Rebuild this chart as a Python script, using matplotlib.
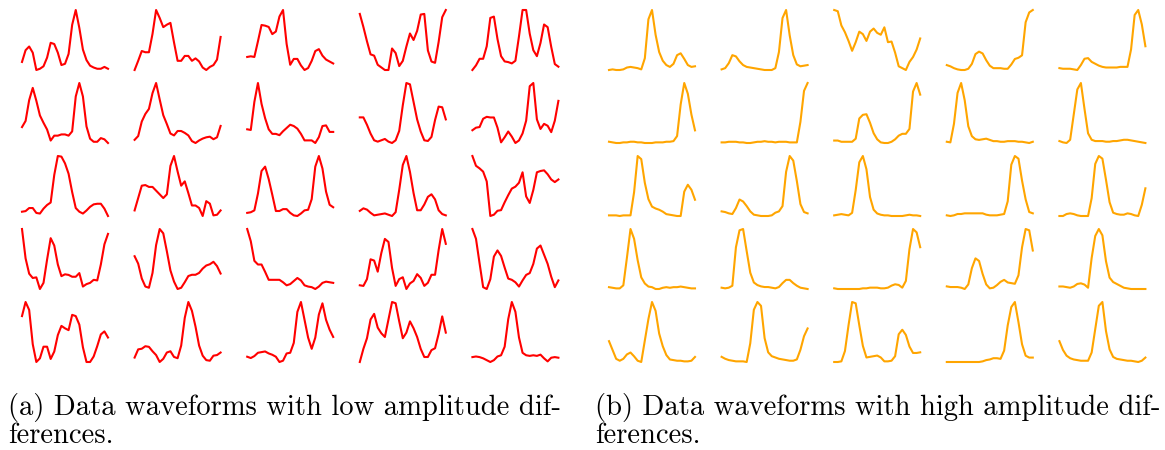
import numpy as np
import matplotlib
matplotlib.use("Agg")
import matplotlib.pyplot as plt

# Data entry: each waveform is 25 samples (arbitrary units)
# (a) low amplitude differences, row by row
low_r1 = [
    [1.5, 3.4, 4.0, 3.0, 0.2, 0.4, 0.8, 2.2, 4.6, 4.4, 3.0, 1.0, 1.2, 2.8, 7.5, 9.9, 7.0, 3.5, 1.8, 0.9, 0.6, 0.4, 0.4, 0.7, 0.4],
    [0.1, 1.6, 3.2, 3.0, 3.0, 6.0, 9.9, 8.6, 7.1, 7.5, 7.8, 4.6, 1.6, 1.6, 2.4, 2.4, 1.6, 2.0, 1.5, 0.5, 0.1, 0.6, 0.9, 1.8, 5.5],
    [2.1, 2.2, 2.1, 4.5, 7.0, 6.9, 6.7, 5.6, 6.0, 8.3, 9.3, 4.1, 0.9, 1.8, 1.8, 0.8, 0.1, 0.4, 1.5, 3.0, 3.3, 2.3, 1.7, 1.4, 1.1],
    [9.0, 7.0, 4.8, 2.8, 2.6, 1.2, 0.8, 0.4, 0.4, 3.7, 3.0, 1.0, 1.8, 4.0, 6.0, 5.0, 6.4, 8.9, 9.0, 3.4, 1.7, 1.5, 4.7, 8.5, 9.6],
    [0.1, 0.8, 1.8, 1.8, 3.7, 8.0, 8.2, 4.8, 2.2, 1.4, 1.3, 1.1, 1.5, 5.2, 9.2, 9.2, 5.6, 3.1, 2.2, 4.2, 7.0, 6.6, 3.6, 1.0, 0.6],
]
low_r2 = [
    [2.6, 3.6, 7.0, 9.0, 6.9, 4.5, 3.3, 2.2, 0.4, 1.2, 1.2, 1.4, 1.4, 1.2, 1.9, 7.6, 9.8, 7.6, 2.7, 0.7, 0.2, 0.2, 0.8, 0.6, 0.0],
    [0.6, 1.2, 3.5, 4.7, 5.5, 8.0, 9.6, 7.0, 4.5, 3.1, 1.6, 1.3, 2.0, 2.0, 1.7, 1.3, 0.4, 0.1, 0.5, 0.8, 1.0, 1.1, 0.7, 1.0, 2.8],
    [2.5, 2.4, 6.7, 9.6, 6.4, 4.2, 2.5, 1.8, 1.8, 1.6, 2.2, 2.7, 3.2, 3.0, 2.6, 1.8, 0.8, 0.8, 0.8, 0.4, 1.3, 3.0, 3.1, 2.1, 2.1],
    [3.9, 3.9, 2.8, 1.5, 0.5, 0.3, 0.5, 0.7, 0.3, 0.1, 0.5, 1.9, 5.7, 9.0, 8.8, 6.2, 3.6, 1.8, 0.5, 0.4, 1.0, 3.5, 5.5, 5.4, 3.6],
    [2.1, 2.5, 2.6, 3.9, 4.2, 4.1, 4.1, 2.5, 0.2, 1.0, 1.9, 1.1, 0.1, 0.5, 1.6, 3.6, 9.0, 9.5, 3.8, 2.3, 3.1, 2.8, 1.8, 3.6, 6.7],
]
low_r3 = [
    [0.8, 0.9, 1.4, 1.4, 0.6, 0.5, 1.3, 1.9, 2.3, 6.8, 9.9, 9.8, 8.7, 7.0, 4.0, 1.4, 0.8, 0.5, 1.0, 1.6, 2.0, 2.1, 2.1, 1.3, 0.1],
    [1.0, 3.0, 5.0, 5.1, 4.8, 4.8, 4.2, 3.6, 3.0, 3.6, 8.2, 9.8, 7.3, 5.0, 5.7, 3.8, 1.8, 1.8, 1.4, 0.1, 2.5, 2.1, 0.2, 0.3, 1.0],
    [0.6, 0.7, 1.0, 3.7, 7.3, 8.0, 6.0, 3.5, 0.9, 0.9, 1.2, 1.2, 0.6, 0.2, 0.1, 0.5, 1.0, 1.1, 2.8, 8.0, 9.7, 7.7, 4.0, 1.9, 1.5],
    [1.2, 1.6, 1.4, 0.9, 0.5, 0.6, 0.7, 0.8, 0.6, 0.4, 1.0, 4.5, 8.4, 9.8, 7.3, 4.0, 1.3, 1.3, 2.2, 3.4, 3.8, 3.0, 1.3, 0.7, 0.5],
    [10.0, 8.5, 8.1, 7.6, 6.1, 0.8, 1.0, 1.6, 1.7, 2.9, 4.0, 5.0, 5.3, 5.9, 7.5, 3.8, 2.8, 4.8, 7.5, 7.7, 7.8, 7.2, 6.4, 6.0, 6.4],
]
low_r4 = [
    [10.0, 5.2, 2.7, 2.0, 2.1, 0.2, 1.2, 5.0, 8.5, 7.3, 4.2, 2.3, 2.6, 2.5, 2.2, 2.2, 2.8, 0.6, 1.0, 1.2, 1.7, 1.6, 4.2, 7.5, 9.2],
    [5.5, 4.3, 1.9, 0.6, 0.4, 2.8, 7.3, 9.9, 9.2, 6.3, 3.2, 1.4, 0.2, 0.4, 1.3, 2.3, 2.5, 2.5, 2.8, 3.5, 4.0, 4.2, 4.6, 3.9, 2.7],
    [10.0, 8.0, 4.8, 4.2, 4.2, 3.0, 1.7, 1.7, 1.7, 1.7, 1.3, 0.8, 1.0, 1.5, 2.0, 1.6, 0.8, 0.6, 0.5, 0.2, 0.6, 1.2, 1.4, 1.3, 1.2],
    [0.8, 0.7, 1.8, 5.0, 4.8, 3.0, 6.0, 8.3, 7.8, 3.6, 0.7, 1.8, 2.1, 0.2, 1.1, 1.5, 2.6, 2.0, 0.7, 1.2, 2.5, 2.5, 6.5, 9.9, 7.5],
    [10.0, 8.4, 4.4, 0.5, 0.2, 1.8, 5.5, 6.5, 5.6, 3.7, 1.9, 1.7, 1.3, 0.6, 1.6, 2.5, 2.8, 4.3, 6.8, 7.3, 5.8, 4.3, 2.2, 0.5, 1.6],
]
low_r5 = [
    [7.6, 9.9, 8.6, 3.0, 0.1, 0.7, 2.6, 2.6, 0.6, 1.8, 4.5, 6.0, 5.6, 5.3, 7.8, 7.6, 6.2, 2.5, 0.1, 0.1, 1.0, 2.7, 4.6, 5.1, 4.1],
    [1.1, 2.4, 2.5, 2.9, 2.8, 2.1, 1.5, 0.4, 0.9, 1.9, 2.1, 1.2, 1.0, 3.0, 7.4, 9.9, 8.5, 6.0, 3.0, 1.4, 0.7, 0.6, 1.4, 1.5, 1.9],
    [1.4, 1.2, 1.5, 2.0, 2.1, 2.2, 1.9, 1.7, 1.4, 0.6, 0.8, 1.9, 2.0, 3.5, 8.2, 9.7, 7.0, 4.3, 2.6, 4.3, 7.8, 9.5, 7.0, 5.5, 4.4],
    [0.0, 2.1, 3.8, 6.8, 7.7, 5.5, 4.6, 4.0, 6.8, 9.6, 9.4, 6.5, 3.8, 4.7, 6.5, 5.4, 4.0, 2.1, 0.8, 0.8, 1.9, 2.2, 4.5, 7.3, 4.7],
    [0.8, 0.9, 0.8, 0.6, 0.3, 0.0, 0.3, 0.9, 1.1, 2.5, 7.0, 9.8, 8.2, 4.0, 1.5, 1.1, 1.0, 1.1, 1.0, 1.2, 0.6, 0.1, 0.7, 0.8, 0.7],
]

# (b) high amplitude differences, row by row
high_r1 = [
    [0.1, 0.2, 0.1, 0.1, 0.2, 0.5, 0.6, 0.5, 0.4, 0.2, 2.0, 8.3, 9.8, 5.8, 3.0, 1.6, 0.9, 0.6, 1.1, 2.5, 2.8, 1.9, 0.9, 0.6, 0.7],
    [0.2, 0.4, 1.2, 2.5, 2.3, 1.5, 0.9, 0.6, 0.5, 0.4, 0.3, 0.2, 0.1, 0.1, 0.1, 0.4, 3.0, 8.5, 9.8, 5.7, 2.5, 1.0, 0.7, 0.8, 0.9],
    [10.0, 9.8, 7.5, 6.4, 5.0, 3.4, 4.8, 6.5, 6.1, 5.0, 6.5, 7.0, 6.3, 6.0, 7.2, 4.8, 4.9, 3.1, 0.9, 0.6, 0.3, 1.6, 2.4, 3.6, 5.4],
    [1.0, 0.8, 0.5, 0.3, 0.2, 0.2, 0.4, 1.2, 2.8, 3.2, 2.9, 1.8, 0.9, 0.5, 0.5, 0.5, 0.4, 0.4, 1.1, 2.0, 2.2, 2.6, 8.0, 9.6, 10.0],
    [0.5, 0.4, 0.4, 0.4, 0.3, 0.2, 1.0, 2.0, 2.1, 1.5, 1.2, 0.9, 0.7, 0.6, 0.6, 0.6, 0.6, 0.7, 0.7, 0.7, 3.5, 9.0, 9.8, 7.5, 4.0],
]
high_r2 = [
    [0.3, 0.2, 0.1, 0.1, 0.2, 0.2, 0.3, 0.3, 0.2, 0.2, 0.1, 0.1, 0.1, 0.2, 0.2, 0.2, 0.3, 0.3, 0.4, 1.2, 6.2, 9.6, 7.9, 4.6, 2.1],
    [0.2, 0.2, 0.3, 0.3, 0.3, 0.2, 0.2, 0.1, 0.1, 0.2, 0.3, 0.3, 0.4, 0.3, 0.3, 0.2, 0.3, 0.3, 0.3, 0.2, 0.2, 0.2, 3.6, 8.7, 10.0],
    [0.4, 0.4, 0.2, 0.2, 0.2, 0.2, 0.7, 4.0, 4.6, 4.7, 3.3, 1.6, 0.6, 0.1, 0.0, 0.0, 0.2, 0.6, 1.2, 1.5, 1.5, 2.3, 8.4, 9.8, 7.9],
    [0.3, 0.2, 3.2, 8.2, 9.8, 7.0, 2.8, 1.2, 0.7, 0.6, 0.7, 0.8, 0.6, 0.4, 0.4, 0.3, 0.3, 0.4, 0.4, 0.4, 0.3, 0.3, 0.2, 0.1, 0.3],
    [0.4, 0.2, 0.1, 0.6, 4.5, 8.4, 9.4, 5.4, 1.6, 0.6, 0.4, 0.4, 0.4, 0.3, 0.3, 0.4, 0.4, 0.5, 0.6, 0.6, 0.5, 0.4, 0.3, 0.2, 0.1],
]
high_r3 = [
    [0.3, 0.3, 0.3, 0.2, 0.3, 0.3, 0.3, 4.0, 9.8, 9.3, 5.5, 2.9, 1.7, 1.4, 1.2, 0.9, 0.5, 0.4, 0.3, 0.2, 0.2, 4.1, 5.2, 4.4, 2.8],
    [1.0, 0.9, 0.7, 0.6, 1.5, 2.8, 2.5, 1.8, 1.0, 0.5, 0.4, 0.3, 0.3, 0.3, 0.4, 0.8, 1.0, 1.8, 7.0, 9.4, 8.7, 5.6, 2.1, 0.9, 0.7],
    [0.3, 0.4, 0.5, 0.4, 0.3, 0.7, 4.3, 8.7, 9.7, 7.6, 3.2, 1.2, 0.6, 0.4, 0.3, 0.3, 0.2, 0.2, 0.2, 0.2, 0.3, 0.4, 0.3, 0.3, 0.2],
    [0.3, 0.2, 0.3, 0.5, 0.5, 0.6, 0.6, 0.6, 0.6, 0.6, 0.6, 0.4, 0.3, 0.3, 0.3, 0.4, 0.5, 2.4, 7.9, 9.2, 8.8, 5.5, 2.7, 0.8, 0.6],
    [0.3, 0.3, 0.6, 0.7, 0.6, 0.4, 0.3, 0.3, 0.3, 3.0, 8.2, 9.4, 9.0, 5.8, 2.4, 0.8, 0.6, 0.5, 0.5, 0.7, 0.6, 0.4, 0.3, 2.0, 4.5],
]
high_r4 = [
    [0.4, 0.3, 0.2, 0.2, 0.7, 5.2, 9.9, 8.3, 4.8, 2.0, 1.0, 0.5, 0.4, 0.1, 0.1, 0.3, 0.4, 0.3, 0.4, 0.4, 0.5, 0.4, 0.3, 0.2, 0.2],
    [0.3, 0.2, 0.3, 0.6, 6.5, 9.1, 9.3, 5.9, 2.6, 1.1, 0.7, 0.5, 0.4, 0.4, 0.3, 0.2, 0.4, 1.0, 1.5, 1.5, 1.0, 0.6, 0.3, 0.2, 0.1],
    [0.2, 0.1, 0.1, 0.1, 0.1, 0.1, 0.1, 0.1, 0.2, 0.2, 0.3, 0.3, 0.3, 0.2, 0.2, 0.3, 0.6, 0.8, 0.7, 0.3, 1.3, 6.0, 9.0, 8.5, 6.3],
    [0.5, 0.4, 0.4, 0.4, 0.3, 0.1, 0.8, 3.3, 4.8, 4.4, 2.4, 0.8, 0.2, 0.3, 0.7, 1.2, 1.5, 1.1, 1.0, 0.9, 2.2, 6.5, 9.3, 9.1, 6.0],
    [0.5, 0.5, 0.4, 0.3, 0.5, 0.9, 1.0, 0.8, 0.3, 5.0, 8.5, 9.6, 8.6, 4.5, 1.9, 1.2, 0.9, 0.6, 0.3, 0.2, 0.1, 0.1, 0.1, 0.1, 0.1],
]
high_r5 = [
    [3.4, 2.0, 0.6, 0.3, 0.6, 1.3, 1.6, 1.0, 0.3, 0.1, 3.5, 6.9, 9.6, 8.2, 4.6, 2.6, 1.2, 0.5, 0.4, 0.3, 0.3, 0.2, 0.2, 0.3, 0.9],
    [0.9, 0.6, 0.4, 0.3, 0.2, 0.2, 0.2, 0.1, 3.0, 8.2, 9.4, 8.8, 3.8, 1.6, 1.0, 0.8, 0.6, 0.5, 0.4, 0.3, 0.3, 0.5, 2.0, 4.1, 5.3],
    [0.1, 0.1, 0.2, 1.8, 5.8, 9.4, 9.2, 5.8, 2.6, 0.8, 0.9, 1.0, 1.1, 0.8, 0.2, 0.2, 0.3, 1.0, 4.4, 5.1, 4.3, 2.5, 1.5, 1.5, 1.6],
    [0.2, 0.2, 0.2, 0.2, 0.2, 0.2, 0.2, 0.2, 0.2, 0.2, 0.3, 0.5, 0.6, 0.8, 0.8, 0.7, 2.0, 6.0, 8.9, 9.7, 6.5, 3.0, 1.2, 0.9, 0.9],
    [3.4, 2.0, 1.1, 0.7, 0.5, 0.4, 0.3, 0.3, 0.3, 1.6, 5.3, 9.0, 9.6, 5.0, 2.1, 0.9, 0.6, 0.5, 0.4, 0.3, 0.3, 0.2, 0.1, 0.3, 0.8],
]

low_rows = [low_r1, low_r2, low_r3, low_r4, low_r5]
high_rows = [high_r1, high_r2, high_r3, high_r4, high_r5]

caption_a = ["(a) Data waveforms with low amplitude dif-", "ferences."]
caption_b = ["(b) Data waveforms with high amplitude dif-", "ferences."]

W, H = 1165, 450
fig = plt.figure(figsize=(W / 100, H / 100), dpi=100)


def draw_panel(rows, color, left):
    # cells laid out in pixel units from the top-left corner
    for r, row in enumerate(rows):
        for c, wave in enumerate(row):
            x0 = left + 112.6 * c
            y0 = 10 + 73 * r
            ax = fig.add_axes([x0 / W, 1 - (y0 + 60) / H, 86 / W, 60 / H])
            wave = np.asarray(wave)
            ax.plot(np.arange(len(wave)), wave, color=color, lw=1.5,
                    solid_joinstyle="round", clip_on=False)
            ax.set_xlim(0, len(wave) - 1)
            ax.set_ylim(wave.min(), wave.max())
            ax.axis("off")


draw_panel(low_rows, "#ff0000", 22)
draw_panel(high_rows, "#ffa500", 609)

# captions, one text per line so the baselines can be placed exactly
for x, lines in [(8, caption_a), (595, caption_b)]:
    for base, line in zip([415, 443], lines):
        fig.text(x / W, 1 - base / H, line, fontfamily="cmr10", fontsize=20.6,
                 va="baseline", ha="left")

fig.savefig("out.png", dpi=100)
